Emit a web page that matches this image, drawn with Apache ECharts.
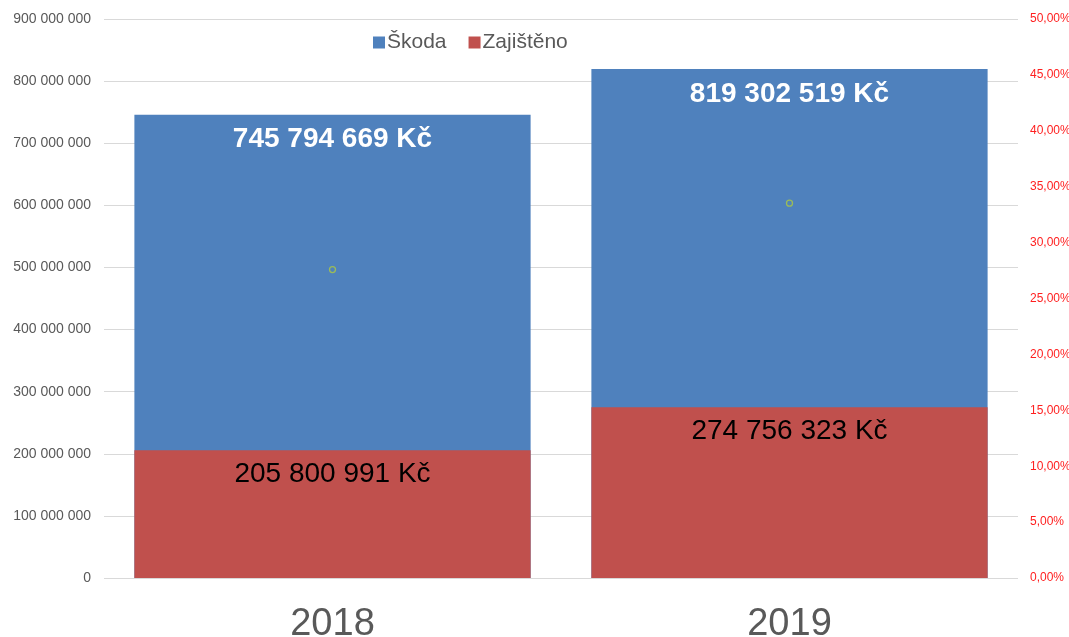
<!DOCTYPE html>
<html>
<head>
    <meta charset="utf-8">
    <title>Škoda / Zajištěno</title>
    <script src="https://cdn.jsdelivr.net/npm/echarts@6/dist/echarts.min.js"></script>
</head>
<body style="margin:0">
    <div id="main" style="width:1069px;height:637px;"></div>
    <script type="text/javascript">
        // data
        var years = ['2018', '2019'];
        var skoda = [745794669, 819302519];
        var zajisteno = [205800991, 274756323];
        var podil = [0.2759, 0.3353]; // Zajištěno / Škoda

        function spaced(n) {
            return String(Math.round(n)).replace(/\B(?=(\d{3})+(?!\d))/g, ' ');
        }

        var myChart = echarts.init(document.getElementById('main'));

        var option = {
            backgroundColor: '#fff',
            animation: false,
            textStyle: { fontFamily: 'Liberation Sans, Arial, sans-serif' },
            legend: {
                top: 27,
                left: 368,
                itemWidth: 12,
                itemHeight: 12,
                itemGap: 22,
                icon: 'rect',
                data: ['Škoda', 'Zajištěno'],
                textStyle: { fontSize: 21, color: '#595959', padding: [0, 0, 0, -3] }
            },
            grid: { left: 104, right: 51, top: 19, bottom: 59, outerBoundsMode: 'none', containLabel: false },
            xAxis: {
                type: 'category',
                data: years,
                axisLine: { show: false },
                axisTick: { show: false },
                axisLabel: { fontSize: 38, color: '#595959', margin: 28 }
            },
            yAxis: [{
                type: 'value',
                min: 0,
                max: 900000000,
                interval: 100000000,
                axisLine: { show: false },
                axisTick: { show: false },
                splitLine: { lineStyle: { color: '#d9d9d9' } },
                axisLabel: {
                    fontSize: 14,
                    color: '#595959',
                    margin: 13,
                    formatter: spaced
                }
            }, {
                type: 'value',
                min: 0,
                max: 0.5,
                interval: 0.05,
                axisLine: { show: false },
                axisTick: { show: false },
                splitLine: { show: false },
                axisLabel: {
                    fontSize: 12,
                    color: '#ff2020',
                    margin: 12,
                    formatter: function (v) { return (v * 100).toFixed(2).replace('.', ',') + '%'; }
                }
            }],
            series: [{
                name: 'Škoda',
                type: 'bar',
                data: skoda,
                barWidth: '86.7%',
                barGap: '-100%',
                itemStyle: { color: '#4f81bd' },
                label: {
                    show: true,
                    position: 'insideTop',
                    distance: 11,
                    color: '#fff',
                    fontSize: 28,
                    fontWeight: 'bold',
                    formatter: function (p) { return spaced(p.value) + ' Kč'; }
                }
            }, {
                name: 'Zajištěno',
                type: 'bar',
                data: zajisteno,
                barWidth: '86.7%',
                barGap: '-100%',
                itemStyle: { color: '#c0504d' },
                label: {
                    show: true,
                    position: 'insideTop',
                    distance: 10,
                    color: '#000',
                    fontSize: 28,
                    formatter: function (p) { return spaced(p.value) + ' Kč'; }
                }
            }, {
                name: 'Podíl',
                type: 'line',
                yAxisIndex: 1,
                data: podil,
                symbol: 'circle',
                symbolSize: 6,
                lineStyle: { width: 0, opacity: 0 },
                itemStyle: { color: 'rgba(0,0,0,0)', borderColor: '#9bbb59', borderWidth: 1.3 },
                z: 5
            }]
        };

        myChart.setOption(option);
    </script>
</body>
</html>
